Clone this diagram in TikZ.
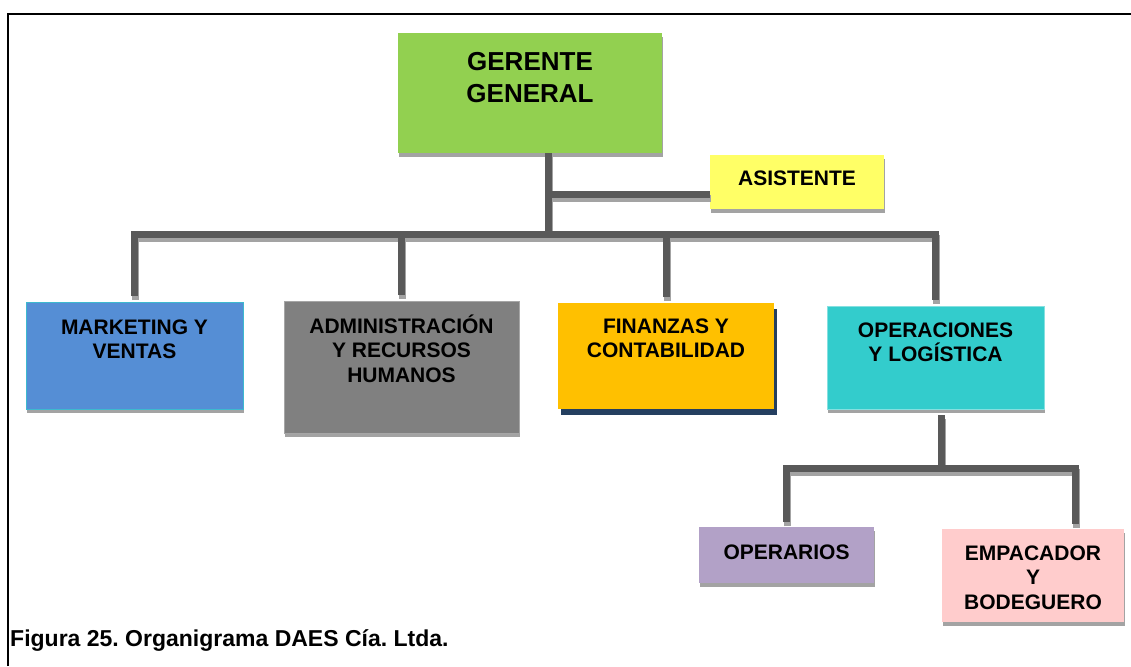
\documentclass[tikz,border=0pt]{standalone}
\usepackage{fontspec}
\setmainfont{Liberation Sans}
\usetikzlibrary{calc,shadows}
\definecolor{clinec}{HTML}{595959}
\definecolor{shgray}{HTML}{A3A3A3}
\definecolor{cgreen}{HTML}{92D050}
\definecolor{cyellow}{HTML}{FFFF66}
\definecolor{cblue}{HTML}{558ED5}
\definecolor{cgray}{HTML}{808080}
\definecolor{corange}{HTML}{FFC000}
\definecolor{cnavy}{HTML}{243F60}
\definecolor{cteal}{HTML}{33CCCC}
\definecolor{cviolet}{HTML}{B2A1C7}
\definecolor{cpink}{HTML}{FFCCCC}
\newcommand\bx{\rule{0pt}{20pt}}
\newcommand\gx{\rule{0pt}{24pt}}
\frenchspacing
\begin{document}
\begin{tikzpicture}[x=1pt,y=-1pt,
  box/.style={anchor=north west, inner sep=0pt, outer sep=0pt, draw=none},
  bshadow/.style={drop shadow={shadow xshift=1pt, shadow yshift=-4pt, fill=shgray, opacity=1}},
  nshadow/.style={drop shadow={shadow xshift=3pt, shadow yshift=-6pt, fill=cnavy, opacity=1}},
  txt/.style={anchor=north, inner sep=0pt, align=center, text=black,
    font=\fontsize{21}{24.5}\selectfont\bfseries},
  bigtxt/.style={anchor=north, inner sep=0pt, align=center, text=black,
    font=\fontsize{26}{32}\selectfont\bfseries},
  cline/.style={draw=clinec, line width=7pt, line join=miter},
  cshadow/.style={draw=shgray, line width=7pt, line join=miter}]
\useasboundingbox (0,0) rectangle (1131,666);
\fill[white] (0,0) rectangle (1131,666);
% frame
\draw[line width=2pt, line join=miter] (8,666) -- (8,14) -- (1131,14);

% boxes
\node[box, fill=cgreen, minimum width=264pt, minimum height=120pt, bshadow] (ger) at (398,33) {};
\node[box, fill=cyellow, minimum width=174pt, minimum height=54pt, bshadow] (asi) at (710,155) {};
\node[box, fill=cblue, draw=cteal!70!cblue, line width=0.8pt, minimum width=217pt, minimum height=107pt, bshadow] (mkt) at (26,302) {};
\node[box, fill=cgray, draw=gray!70, line width=0.8pt, minimum width=235pt, minimum height=132pt, bshadow] (adm) at (284,301) {};
\node[box, fill=corange, minimum width=216pt, minimum height=106pt, nshadow] (fin) at (558,303) {};
\node[box, fill=cteal, draw=cteal!60, line width=0.8pt, minimum width=217pt, minimum height=103pt, bshadow] (ops) at (827,306) {};
\node[box, fill=cviolet, minimum width=175pt, minimum height=56pt, bshadow] (opr) at (699,527) {};
\node[box, fill=cpink, minimum width=182pt, minimum height=93pt, bshadow] (emp) at (942,529) {};

% texts
\node[bigtxt] (ger-t) at ($(ger.north)+(0,13)$) {\gx GERENTE\\GENERAL};
\node[txt] (asi-t) at ($(asi.north)+(0,10)$) {\bx ASISTENTE};
\node[txt] (mkt-t) at ($(mkt.north)+(0,12)$) {\bx MARKETING Y\\VENTAS};
\node[txt] (adm-t) at ($(adm.north)+(0,12)$) {\bx ADMINISTRACIÓN\\Y RECURSOS\\HUMANOS};
\node[txt] (fin-t) at ($(fin.north)+(0,10)$) {\bx FINANZAS Y\\CONTABILIDAD};
\node[txt] (ops-t) at ($(ops.north)+(0,11)$) {\bx OPERACIONES\\Y LOGÍSTICA};
\node[txt] (opr-t) at ($(opr.north)+(0,12)$) {\bx OPERARIOS};
\node[txt] (emp-t) at ($(emp.north)+(0,11)$) {\bx EMPACADOR\\Y\\BODEGUERO};

\node[anchor=base west, inner sep=0pt, font=\fontsize{23}{27}\selectfont\bfseries] (cap) at (10,646) {Figura 25. Organigrama DAES Cía. Ltda.};

% junction coordinates
\coordinate (bus) at (548.5,234);
\coordinate (asij) at (548.5,194);
\coordinate (sub) at (941,468.5);
\path (ops.south -| sub) ++(0,6) coordinate (opsb);
\path (emp.north west) ++(133.5,-5) coordinate (empd);

\newcommand\allconn[1]{%
  \draw[#1] (ger.south -| bus) -- (bus);
  \draw[#1] (asij) -- (asij -| asi.west);
  \draw[#1] ([yshift=6pt]mkt.north) |- (bus) -| ([yshift=6pt]ops.north);
  \draw[#1] ([yshift=6pt]adm.north) -- (adm.north |- bus);
  \draw[#1] ([yshift=6pt]fin.north) -- (fin.north |- bus);
  \draw[#1] (opsb) -- (sub);
  \draw[#1] ([yshift=5pt]opr.north) |- (sub) -| (empd);
}
\begin{scope}[transform canvas={xshift=1pt,yshift=-4pt}]
  \allconn{cshadow}
\end{scope}
\allconn{cline}
\end{tikzpicture}
\end{document}
